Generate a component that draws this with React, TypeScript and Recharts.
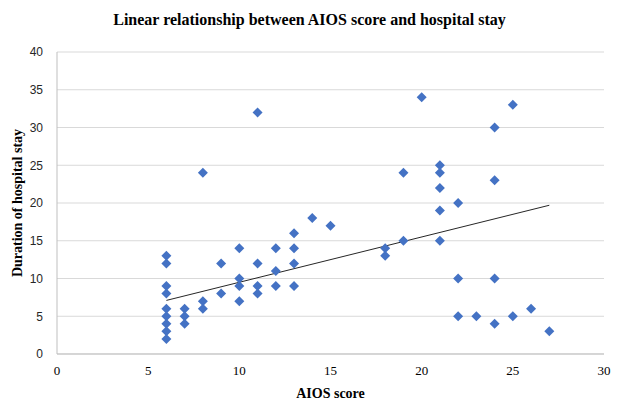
import { ScatterChart, Scatter, XAxis, YAxis, CartesianGrid, ReferenceLine, Label } from 'recharts'

// AIOS score (x) vs duration of hospital stay (y)
const aiosScore = [
  6, 6, 6, 6, 6, 6, 6, 6, 6,
  7, 7, 7,
  8, 8, 8,
  9, 9,
  10, 10, 10, 10,
  11, 11, 11, 11,
  12, 12, 12,
  13, 13, 13, 13,
  14, 15,
  18, 18,
  19, 19,
  20,
  21, 21, 21, 21, 21,
  22, 22, 22,
  23,
  24, 24, 24, 24,
  25, 25,
  26, 27,
]
const hospitalStay = [
  13, 12, 9, 8, 6, 5, 4, 3, 2,
  6, 5, 4,
  24, 7, 6,
  12, 8,
  14, 10, 9, 7,
  32, 12, 9, 8,
  14, 11, 9,
  16, 14, 12, 9,
  18, 17,
  14, 13,
  24, 15,
  34,
  25, 24, 22, 19, 15,
  20, 10, 5,
  5,
  30, 23, 10, 4,
  33, 5,
  6, 3,
]

// linear trendline end points
const trendX = [6, 27]
const trendY = [7.1, 19.7]

const xTicks = [0, 5, 10, 15, 20, 25, 30]
const yTicks = [0, 5, 10, 15, 20, 25, 30, 35, 40]

const points = aiosScore.map((x, i) => ({ x, y: hospitalStay[i] }))

const Diamond = (props: any) => {
  const { cx, cy } = props
  const r = 5
  return <path d={`M${cx},${cy - r}L${cx + r},${cy}L${cx},${cy + r}L${cx - r},${cy}Z`} fill="#4472C4" />
}

export default function App() {
  return (
    <div style={{ position: 'absolute', left: 0, top: 0, width: 619, height: 400, background: '#fff' }}>
      <div style={{ position: 'absolute', top: 11, left: 0, width: 619, textAlign: 'center', fontFamily: '"Liberation Serif", "Times New Roman", serif', fontWeight: 'bold', fontSize: 16, color: '#000' }}>
        Linear relationship between AIOS score and hospital stay
      </div>
      <ScatterChart width={619} height={400} margin={{ top: 52, right: 15, bottom: 0, left: 0 }}>
        <CartesianGrid vertical={false} stroke="#d9d9d9" />
        <XAxis
          type="number"
          dataKey="x"
          domain={[0, 30]}
          ticks={xTicks}
          height={46}
          tickLine={false}
          axisLine={{ stroke: '#bfbfbf' }}
          tick={{ fontSize: 13, fill: '#000', fontFamily: '"Liberation Serif", serif' }}
          tickMargin={6}
        >
          <Label value="AIOS score" position="insideBottom" offset={2} style={{ fontFamily: '"Liberation Serif", serif', fontWeight: 'bold', fontSize: 14, fill: '#000' }} />
        </XAxis>
        <YAxis
          type="number"
          dataKey="y"
          domain={[0, 40]}
          ticks={yTicks}
          width={57}
          tickLine={false}
          axisLine={{ stroke: '#bfbfbf' }}
          tick={{ fontSize: 12, fill: '#262626', fontFamily: '"Liberation Sans", Arial, sans-serif' }}
          tickMargin={8}
        >
          <Label value="Duration of hospital stay" position="insideLeft" angle={-90} offset={17} style={{ textAnchor: 'middle', fontFamily: '"Liberation Serif", serif', fontWeight: 'bold', fontSize: 14, fill: '#000' }} />
        </YAxis>
        <ReferenceLine
          segment={[{ x: trendX[0], y: trendY[0] }, { x: trendX[1], y: trendY[1] }]}
          stroke="#262626"
          strokeWidth={1}
          ifOverflow="visible"
        />
        <Scatter data={points} shape={Diamond} isAnimationActive={false} />
      </ScatterChart>
    </div>
  )
}
